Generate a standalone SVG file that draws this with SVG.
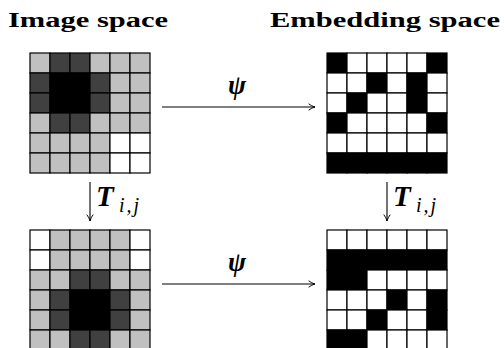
<svg xmlns="http://www.w3.org/2000/svg" width="504" height="348" viewBox="0 0 504 348">
<style>
.c{stroke:#000;stroke-width:1.2}
.L{fill:#c0c0c0}.D{fill:#404040}.B{fill:#000}.W{fill:#fff}
.title{font-family:"Liberation Serif",serif;font-weight:bold;font-size:20px;fill:#000}
.math{font-family:"Liberation Serif",serif;font-weight:bold;font-style:italic;fill:#000}
.sub{font-family:"Liberation Serif",serif;font-style:italic;font-size:20px;letter-spacing:2px;fill:#000}
.ln{stroke:#000;stroke-width:1.1;fill:none}
</style>
<defs>
<marker id="ah" viewBox="0 0 10 10" refX="9" refY="5" markerWidth="8" markerHeight="8" markerUnits="userSpaceOnUse" orient="auto">
<path d="M1,1 Q5,4 9,5 Q5,6 1,9" fill="none" stroke="#000" stroke-width="1.2"/>
</marker>
</defs>
<rect width="504" height="348" fill="#fff"/>
<text class="title" x="8" y="27" textLength="160" lengthAdjust="spacingAndGlyphs">Image space</text>
<text class="title" x="270" y="27" textLength="230" lengthAdjust="spacingAndGlyphs">Embedding space</text>

<g id="img-top" transform="translate(30,53)">
<rect class="c L" x="0" y="0" width="20" height="20"/><rect class="c D" x="20" y="0" width="20" height="20"/><rect class="c D" x="40" y="0" width="20" height="20"/><rect class="c L" x="60" y="0" width="20" height="20"/><rect class="c L" x="80" y="0" width="20" height="20"/><rect class="c L" x="100" y="0" width="20" height="20"/>
<rect class="c D" x="0" y="20" width="20" height="20"/><rect class="c B" x="20" y="20" width="20" height="20"/><rect class="c B" x="40" y="20" width="20" height="20"/><rect class="c D" x="60" y="20" width="20" height="20"/><rect class="c L" x="80" y="20" width="20" height="20"/><rect class="c L" x="100" y="20" width="20" height="20"/>
<rect class="c D" x="0" y="40" width="20" height="20"/><rect class="c B" x="20" y="40" width="20" height="20"/><rect class="c B" x="40" y="40" width="20" height="20"/><rect class="c D" x="60" y="40" width="20" height="20"/><rect class="c L" x="80" y="40" width="20" height="20"/><rect class="c L" x="100" y="40" width="20" height="20"/>
<rect class="c L" x="0" y="60" width="20" height="20"/><rect class="c D" x="20" y="60" width="20" height="20"/><rect class="c D" x="40" y="60" width="20" height="20"/><rect class="c L" x="60" y="60" width="20" height="20"/><rect class="c L" x="80" y="60" width="20" height="20"/><rect class="c L" x="100" y="60" width="20" height="20"/>
<rect class="c L" x="0" y="80" width="20" height="20"/><rect class="c L" x="20" y="80" width="20" height="20"/><rect class="c L" x="40" y="80" width="20" height="20"/><rect class="c L" x="60" y="80" width="20" height="20"/><rect class="c W" x="80" y="80" width="20" height="20"/><rect class="c W" x="100" y="80" width="20" height="20"/>
<rect class="c L" x="0" y="100" width="20" height="20"/><rect class="c L" x="20" y="100" width="20" height="20"/><rect class="c L" x="40" y="100" width="20" height="20"/><rect class="c L" x="60" y="100" width="20" height="20"/><rect class="c W" x="80" y="100" width="20" height="20"/><rect class="c W" x="100" y="100" width="20" height="20"/>
</g>

<g id="emb-top" transform="translate(327,53)">
<rect class="c B" x="0" y="0" width="20" height="20"/><rect class="c W" x="20" y="0" width="20" height="20"/><rect class="c W" x="40" y="0" width="20" height="20"/><rect class="c W" x="60" y="0" width="20" height="20"/><rect class="c W" x="80" y="0" width="20" height="20"/><rect class="c B" x="100" y="0" width="20" height="20"/>
<rect class="c W" x="0" y="20" width="20" height="20"/><rect class="c W" x="20" y="20" width="20" height="20"/><rect class="c B" x="40" y="20" width="20" height="20"/><rect class="c W" x="60" y="20" width="20" height="20"/><rect class="c B" x="80" y="20" width="20" height="20"/><rect class="c W" x="100" y="20" width="20" height="20"/>
<rect class="c W" x="0" y="40" width="20" height="20"/><rect class="c B" x="20" y="40" width="20" height="20"/><rect class="c W" x="40" y="40" width="20" height="20"/><rect class="c W" x="60" y="40" width="20" height="20"/><rect class="c B" x="80" y="40" width="20" height="20"/><rect class="c W" x="100" y="40" width="20" height="20"/>
<rect class="c B" x="0" y="60" width="20" height="20"/><rect class="c W" x="20" y="60" width="20" height="20"/><rect class="c W" x="40" y="60" width="20" height="20"/><rect class="c W" x="60" y="60" width="20" height="20"/><rect class="c W" x="80" y="60" width="20" height="20"/><rect class="c B" x="100" y="60" width="20" height="20"/>
<rect class="c W" x="0" y="80" width="20" height="20"/><rect class="c W" x="20" y="80" width="20" height="20"/><rect class="c W" x="40" y="80" width="20" height="20"/><rect class="c W" x="60" y="80" width="20" height="20"/><rect class="c W" x="80" y="80" width="20" height="20"/><rect class="c W" x="100" y="80" width="20" height="20"/>
<rect class="c B" x="0" y="100" width="20" height="20"/><rect class="c B" x="20" y="100" width="20" height="20"/><rect class="c B" x="40" y="100" width="20" height="20"/><rect class="c B" x="60" y="100" width="20" height="20"/><rect class="c B" x="80" y="100" width="20" height="20"/><rect class="c B" x="100" y="100" width="20" height="20"/>
</g>

<g id="img-bottom" transform="translate(30,230)">
<rect class="c W" x="0" y="0" width="20" height="20"/><rect class="c L" x="20" y="0" width="20" height="20"/><rect class="c L" x="40" y="0" width="20" height="20"/><rect class="c L" x="60" y="0" width="20" height="20"/><rect class="c L" x="80" y="0" width="20" height="20"/><rect class="c W" x="100" y="0" width="20" height="20"/>
<rect class="c W" x="0" y="20" width="20" height="20"/><rect class="c L" x="20" y="20" width="20" height="20"/><rect class="c L" x="40" y="20" width="20" height="20"/><rect class="c L" x="60" y="20" width="20" height="20"/><rect class="c L" x="80" y="20" width="20" height="20"/><rect class="c W" x="100" y="20" width="20" height="20"/>
<rect class="c L" x="0" y="40" width="20" height="20"/><rect class="c L" x="20" y="40" width="20" height="20"/><rect class="c D" x="40" y="40" width="20" height="20"/><rect class="c D" x="60" y="40" width="20" height="20"/><rect class="c L" x="80" y="40" width="20" height="20"/><rect class="c L" x="100" y="40" width="20" height="20"/>
<rect class="c L" x="0" y="60" width="20" height="20"/><rect class="c D" x="20" y="60" width="20" height="20"/><rect class="c B" x="40" y="60" width="20" height="20"/><rect class="c B" x="60" y="60" width="20" height="20"/><rect class="c D" x="80" y="60" width="20" height="20"/><rect class="c L" x="100" y="60" width="20" height="20"/>
<rect class="c L" x="0" y="80" width="20" height="20"/><rect class="c D" x="20" y="80" width="20" height="20"/><rect class="c B" x="40" y="80" width="20" height="20"/><rect class="c B" x="60" y="80" width="20" height="20"/><rect class="c D" x="80" y="80" width="20" height="20"/><rect class="c L" x="100" y="80" width="20" height="20"/>
<rect class="c L" x="0" y="100" width="20" height="20"/><rect class="c L" x="20" y="100" width="20" height="20"/><rect class="c D" x="40" y="100" width="20" height="20"/><rect class="c D" x="60" y="100" width="20" height="20"/><rect class="c L" x="80" y="100" width="20" height="20"/><rect class="c L" x="100" y="100" width="20" height="20"/>
</g>

<g id="emb-bottom" transform="translate(327,230)">
<rect class="c W" x="0" y="0" width="20" height="20"/><rect class="c W" x="20" y="0" width="20" height="20"/><rect class="c W" x="40" y="0" width="20" height="20"/><rect class="c W" x="60" y="0" width="20" height="20"/><rect class="c W" x="80" y="0" width="20" height="20"/><rect class="c W" x="100" y="0" width="20" height="20"/>
<rect class="c B" x="0" y="20" width="20" height="20"/><rect class="c B" x="20" y="20" width="20" height="20"/><rect class="c B" x="40" y="20" width="20" height="20"/><rect class="c B" x="60" y="20" width="20" height="20"/><rect class="c B" x="80" y="20" width="20" height="20"/><rect class="c B" x="100" y="20" width="20" height="20"/>
<rect class="c B" x="0" y="40" width="20" height="20"/><rect class="c B" x="20" y="40" width="20" height="20"/><rect class="c W" x="40" y="40" width="20" height="20"/><rect class="c W" x="60" y="40" width="20" height="20"/><rect class="c W" x="80" y="40" width="20" height="20"/><rect class="c W" x="100" y="40" width="20" height="20"/>
<rect class="c W" x="0" y="60" width="20" height="20"/><rect class="c W" x="20" y="60" width="20" height="20"/><rect class="c W" x="40" y="60" width="20" height="20"/><rect class="c B" x="60" y="60" width="20" height="20"/><rect class="c W" x="80" y="60" width="20" height="20"/><rect class="c B" x="100" y="60" width="20" height="20"/>
<rect class="c W" x="0" y="80" width="20" height="20"/><rect class="c W" x="20" y="80" width="20" height="20"/><rect class="c B" x="40" y="80" width="20" height="20"/><rect class="c W" x="60" y="80" width="20" height="20"/><rect class="c W" x="80" y="80" width="20" height="20"/><rect class="c B" x="100" y="80" width="20" height="20"/>
<rect class="c B" x="0" y="100" width="20" height="20"/><rect class="c B" x="20" y="100" width="20" height="20"/><rect class="c W" x="40" y="100" width="20" height="20"/><rect class="c W" x="60" y="100" width="20" height="20"/><rect class="c W" x="80" y="100" width="20" height="20"/><rect class="c W" x="100" y="100" width="20" height="20"/>
</g>

<g id="connectors">
<line class="ln" x1="162" y1="107" x2="315" y2="107" marker-end="url(#ah)"/>
<line class="ln" x1="162" y1="284" x2="315" y2="284" marker-end="url(#ah)"/>
<line class="ln" x1="90" y1="182" x2="90" y2="221" marker-end="url(#ah)"/>
<line class="ln" x1="387" y1="182" x2="387" y2="221" marker-end="url(#ah)"/>
<text class="math" x="237" y="94" font-size="27" text-anchor="middle">ψ</text>
<text class="math" x="237" y="271" font-size="27" text-anchor="middle">ψ</text>
<text class="math" x="96" y="206" font-size="29">T</text>
<text class="sub" x="119" y="212">i,j</text>
<text class="math" x="393" y="206" font-size="29">T</text>
<text class="sub" x="416" y="212">i,j</text>
</g>
</svg>
